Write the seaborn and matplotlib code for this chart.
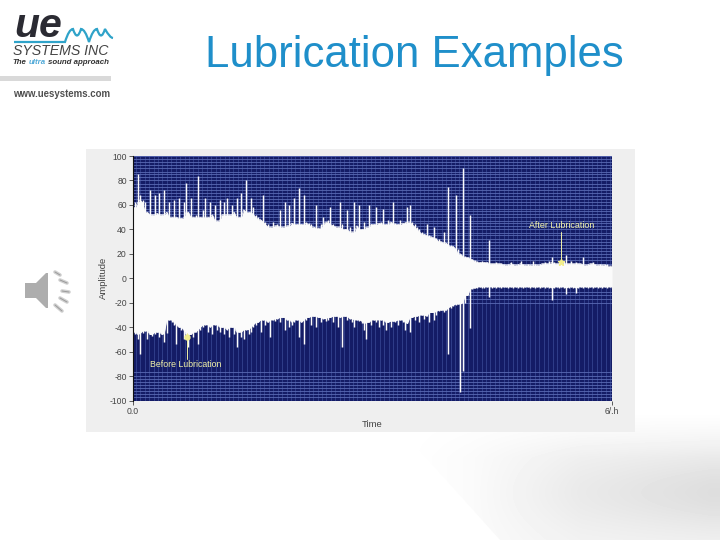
import numpy as np
import pandas as pd
import matplotlib
matplotlib.use("Agg")
import matplotlib.pyplot as plt
from matplotlib.patches import Rectangle, Polygon, PathPatch
from matplotlib.path import Path
from matplotlib.ticker import FixedLocator, FixedFormatter
import seaborn as sns

title = "Lubrication Examples"
y_ticks = [100, 80, 60, 40, 20, 0, -20, -40, -60, -80, -100]
y_tick_labels = ["100", "80", "60", "40", "20", "0", "-20", "-40", "-60", "-80", "-100"]
x_ticks = [0.0, 6.7]
x_tick_labels = ["0.0", "6/.h"]
x_label = "Time"
y_label = "Amplitude"
note_before = "Before Lubrication"
note_after = "After Lubrication"

upper = [
    58, 62, 85, 68, 64, 62, 54, 72, 52, 68,
    53, 70, 52, 72, 54, 62, 50, 64, 50, 66,
    49, 62, 78, 54, 66, 50, 52, 84, 50, 56,
    66, 50, 62, 52, 60, 47, 64, 52, 62, 66,
    52, 60, 54, 66, 50, 70, 56, 80, 54, 66,
    58, 52, 50, 48, 68, 46, 44, 42, 46, 43,
    44, 56, 42, 62, 43, 60, 45, 66, 44, 74,
    44, 68, 46, 45, 44, 42, 60, 41, 44, 50,
    46, 48, 58, 44, 43, 42, 62, 44, 40, 56,
    42, 38, 62, 43, 60, 40, 46, 42, 60, 44,
    44, 58, 45, 46, 57, 44, 48, 46, 62, 45,
    44, 48, 45, 46, 58, 60, 46, 44, 42, 40,
    38, 36, 44, 35, 34, 42, 33, 32, 30, 38,
    29, 75, 27, 26, 68, 24, 20, 90, 18, 17,
    52, 16, 15, 14, 13, 14, 13, 13, 31, 12,
    12, 13, 12, 12, 12, 11, 12, 13, 12, 11,
    12, 14, 12, 11, 12, 11, 14, 12, 11, 12,
    12, 13, 12, 14, 17, 13, 12, 13, 12, 14,
    19, 12, 14, 12, 13, 12, 12, 17, 11, 12,
    12, 13, 12, 11, 12, 11, 12, 12, 10, 10,
]
lower = [
    -44, -46, -50, -62, -45, -43, -50, -46, -47, -46,
    -44, -48, -46, -52, -45, -34, -36, -38, -54, -40,
    -42, -50, -46, -56, -46, -48, -44, -54, -42, -40,
    -38, -44, -40, -46, -38, -42, -44, -40, -46, -42,
    -48, -40, -46, -56, -44, -48, -50, -42, -46, -44,
    -40, -38, -36, -44, -34, -38, -36, -48, -34, -35,
    -33, -36, -32, -42, -34, -40, -38, -36, -34, -48,
    -36, -54, -34, -32, -38, -31, -40, -32, -36, -33,
    -35, -34, -32, -36, -31, -40, -32, -56, -31, -34,
    -33, -36, -40, -34, -35, -37, -42, -50, -36, -38,
    -34, -36, -40, -34, -38, -42, -36, -40, -35, -36,
    -38, -34, -36, -42, -37, -44, -32, -34, -31, -36,
    -30, -33, -31, -36, -28, -34, -30, -27, -26, -28,
    -26, -62, -24, -23, -22, -21, -93, -76, -20, -14,
    -41, -9, -8, -8, -7, -8, -8, -7, -15, -8,
    -7, -8, -7, -8, -7, -7, -8, -7, -8, -7,
    -8, -7, -8, -7, -7, -8, -7, -8, -7, -8,
    -7, -8, -7, -8, -18, -8, -7, -8, -7, -8,
    -13, -8, -7, -8, -12, -8, -7, -8, -7, -8,
    -7, -8, -7, -8, -7, -8, -7, -8, -7, -8,
]
y_grid_top = [100, 97.5, 95, 92.5, 90, 87, 85, 82.5, 80, 77, 75, 72.5, 70, 67, 65, 62.5, 60, 57,
              55, 52.5, 50, 47, 45, 42.5, 40, 37, 35, 32.5, 30, 27, 25, 22.5, 20, 17, 15, 12]
y_grid_bottom = [-11, -14, -17, -20, -77, -80, -82.5, -85, -87, -90, -92.5, -95, -97.5, -100]

sns.set_theme(style="white")
plt.rcParams["font.family"] = ["Liberation Sans", "DejaVu Sans"]

df = pd.DataFrame({"time": np.linspace(x_ticks[0], x_ticks[1], len(upper)), "upper": upper, "lower": lower})
df["upper_base"] = df["upper"].rolling(3, center=True, min_periods=1).min()
df["lower_base"] = df["lower"].rolling(3, center=True, min_periods=1).max()

W, H = 720, 540
fig = plt.figure(figsize=(W / 100, H / 100), dpi=100, facecolor="white")

bg = fig.add_axes([0, 0, 1, 1], zorder=0)
bg.set_xlim(0, W)
bg.set_ylim(H, 0)
bg.axis("off")

# slide swoosh, a soft grey shade at the lower right
gx, gy = np.meshgrid(np.arange(W), np.arange(H))
shade = 1 - 0.045 * np.clip((gx - 400) / 180, 0, 1) * np.clip((gy - 412) / 45, 0, 1) \
    - 0.085 * np.clip((gx - 470) / 240, 0, 1) * np.exp(-((gy - 492) / 40) ** 2)
clip_poly = Polygon([(403, 432), (500, 540), (720, 540), (720, 410), (635, 410), (635, 432)], fc="none", ec="none",
                    transform=bg.transData)
bg.add_patch(clip_poly)
im = bg.imshow(shade, cmap="gray", vmin=0, vmax=1, extent=(0, W, H, 0), aspect="auto", zorder=0)
im.set_clip_path(clip_poly)
bg.set_xlim(0, W)
bg.set_ylim(H, 0)

# logo
bg.text(14, 37, "ue", fontsize=29.5, fontweight="bold", style="italic", color="#2b2b33", va="baseline", ha="left")
wave = Path([(14, 42), (65, 42), (69, 29), (73, 29), (77, 42), (81, 29), (85, 29), (89, 42), (93, 29), (97, 29),
             (101, 42), (105, 29), (110, 38), (113, 38)],
            [Path.MOVETO, Path.LINETO, Path.CURVE3, Path.CURVE3, Path.CURVE3, Path.CURVE3, Path.CURVE3, Path.CURVE3,
             Path.CURVE3, Path.CURVE3, Path.CURVE3, Path.CURVE3, Path.CURVE3, Path.CURVE3])
bg.add_patch(PathPatch(wave, fc="none", ec="#2fa3c9", lw=1.6))
bg.text(61, 55, "SYSTEMS INC", fontsize=10.2, style="italic", color="#444444", va="baseline", ha="center")
bg.text(12, 63, "The", fontsize=5.7, fontweight="bold", style="italic", color="#333333", va="center")
bg.text(29, 63, "ultra", fontsize=5.7, fontweight="bold", style="italic", color="#4fa9d8", va="center")
bg.text(48, 63, "sound approach", fontsize=5.7, fontweight="bold", style="italic", color="#333333", va="center")
bg.add_patch(Rectangle((0, 76), 111, 4.5, fc="#d9d9d9", ec="none"))
bg.text(13, 94, "www.uesystems.com", fontsize=6.9, fontweight="bold", color="#4f4f4f", va="center", ha="left")

# title
bg.text(414, 55, title, fontsize=31.5, color="#1f8fca", ha="center", va="center")

# speaker icon
bg.add_patch(Polygon([(25, 283), (36, 283), (46, 273), (48, 273), (48, 308), (46, 308), (36, 298), (25, 298)],
                     fc="#adadad", ec="none"))
for (x0, y0, x1, y1) in [(55, 272, 60, 275), (60, 280, 67, 283), (62, 291, 69, 292),
                         (60, 298, 67, 302), (55, 305, 62, 311)]:
    bg.plot([x0, x1], [y0, y1], color="#d0d0d0", lw=2.6, solid_capstyle="round")
    bg.plot([x0, x1], [y0, y1], color="#9a9a9a", lw=0.7, solid_capstyle="round")

# chart panel
bg.add_patch(Rectangle((86, 149), 549, 283, fc="#efefef", ec="none"))

ax = fig.add_axes([133 / W, 1 - 400.5 / H, (612 - 133) / W, (400.5 - 156) / H], zorder=2)
ax.set_facecolor("#141c66")
ax.set_xlim(x_ticks[0], x_ticks[1])
ax.set_ylim(-100, 100)

ax.vlines(np.arange(0.04, 6.7, 0.062), -100, 100, color="#34438f", lw=0.6, zorder=1)
ax.hlines(y_grid_top + y_grid_bottom, 0, 6.7, color="#5a6ab4", lw=0.6, zorder=1)

ax.fill_between(df["time"], df["lower_base"], df["upper_base"], color="#fbfbfb", lw=0, zorder=3)
sns.lineplot(data=df, x="time", y="upper_base", color="#fbfbfb", lw=0.5, ax=ax, zorder=3, errorbar=None)
sns.lineplot(data=df, x="time", y="lower_base", color="#fbfbfb", lw=0.5, ax=ax, zorder=3, errorbar=None)
ax.vlines(df["time"], df["lower"], df["upper"], color="#fbfbfb", lw=1.05, zorder=3)

ax.yaxis.set_major_locator(FixedLocator(y_ticks))
ax.yaxis.set_major_formatter(FixedFormatter(y_tick_labels))
ax.xaxis.set_major_locator(FixedLocator(x_ticks))
ax.xaxis.set_major_formatter(FixedFormatter(x_tick_labels))
ax.tick_params(axis="both", length=3, width=0.6, color="#444444", labelsize=6.2, labelcolor="#444444", pad=1.5,
               left=True, bottom=True)
ax.set_xlabel(x_label, fontsize=6.8, color="#444444", labelpad=3)
ax.set_ylabel(y_label, fontsize=6.8, color="#444444", labelpad=1)
for name, sp in ax.spines.items():
    sp.set_visible(name == "left")
    sp.set_color("#111111")
    sp.set_linewidth(0.8)
    sp.set_zorder(6)

note_color = "#f2f2a8"
ax.annotate(note_before, xy=(0.755, -47), xytext=(0.24, -70.5), fontsize=6.3, color=note_color, va="center", ha="left",
            zorder=5)
ax.plot([0.755, 0.755], [-66, -45], color=note_color, lw=0.7, zorder=5)
ax.plot([0.755], [-48], marker="o", ms=3.5, color="#f2ee8c", zorder=5)
ax.annotate(note_after, xy=(5.99, 12), xytext=(5.99, 43), fontsize=6.4, color=note_color, va="center", ha="center",
            zorder=5)
ax.plot([5.99, 5.99], [38, 12], color=note_color, lw=0.7, zorder=5)
ax.plot([5.99], [13], marker="*", ms=4.5, color="#f2ee8c", zorder=5)

fig.savefig("out.png", dpi=100)
